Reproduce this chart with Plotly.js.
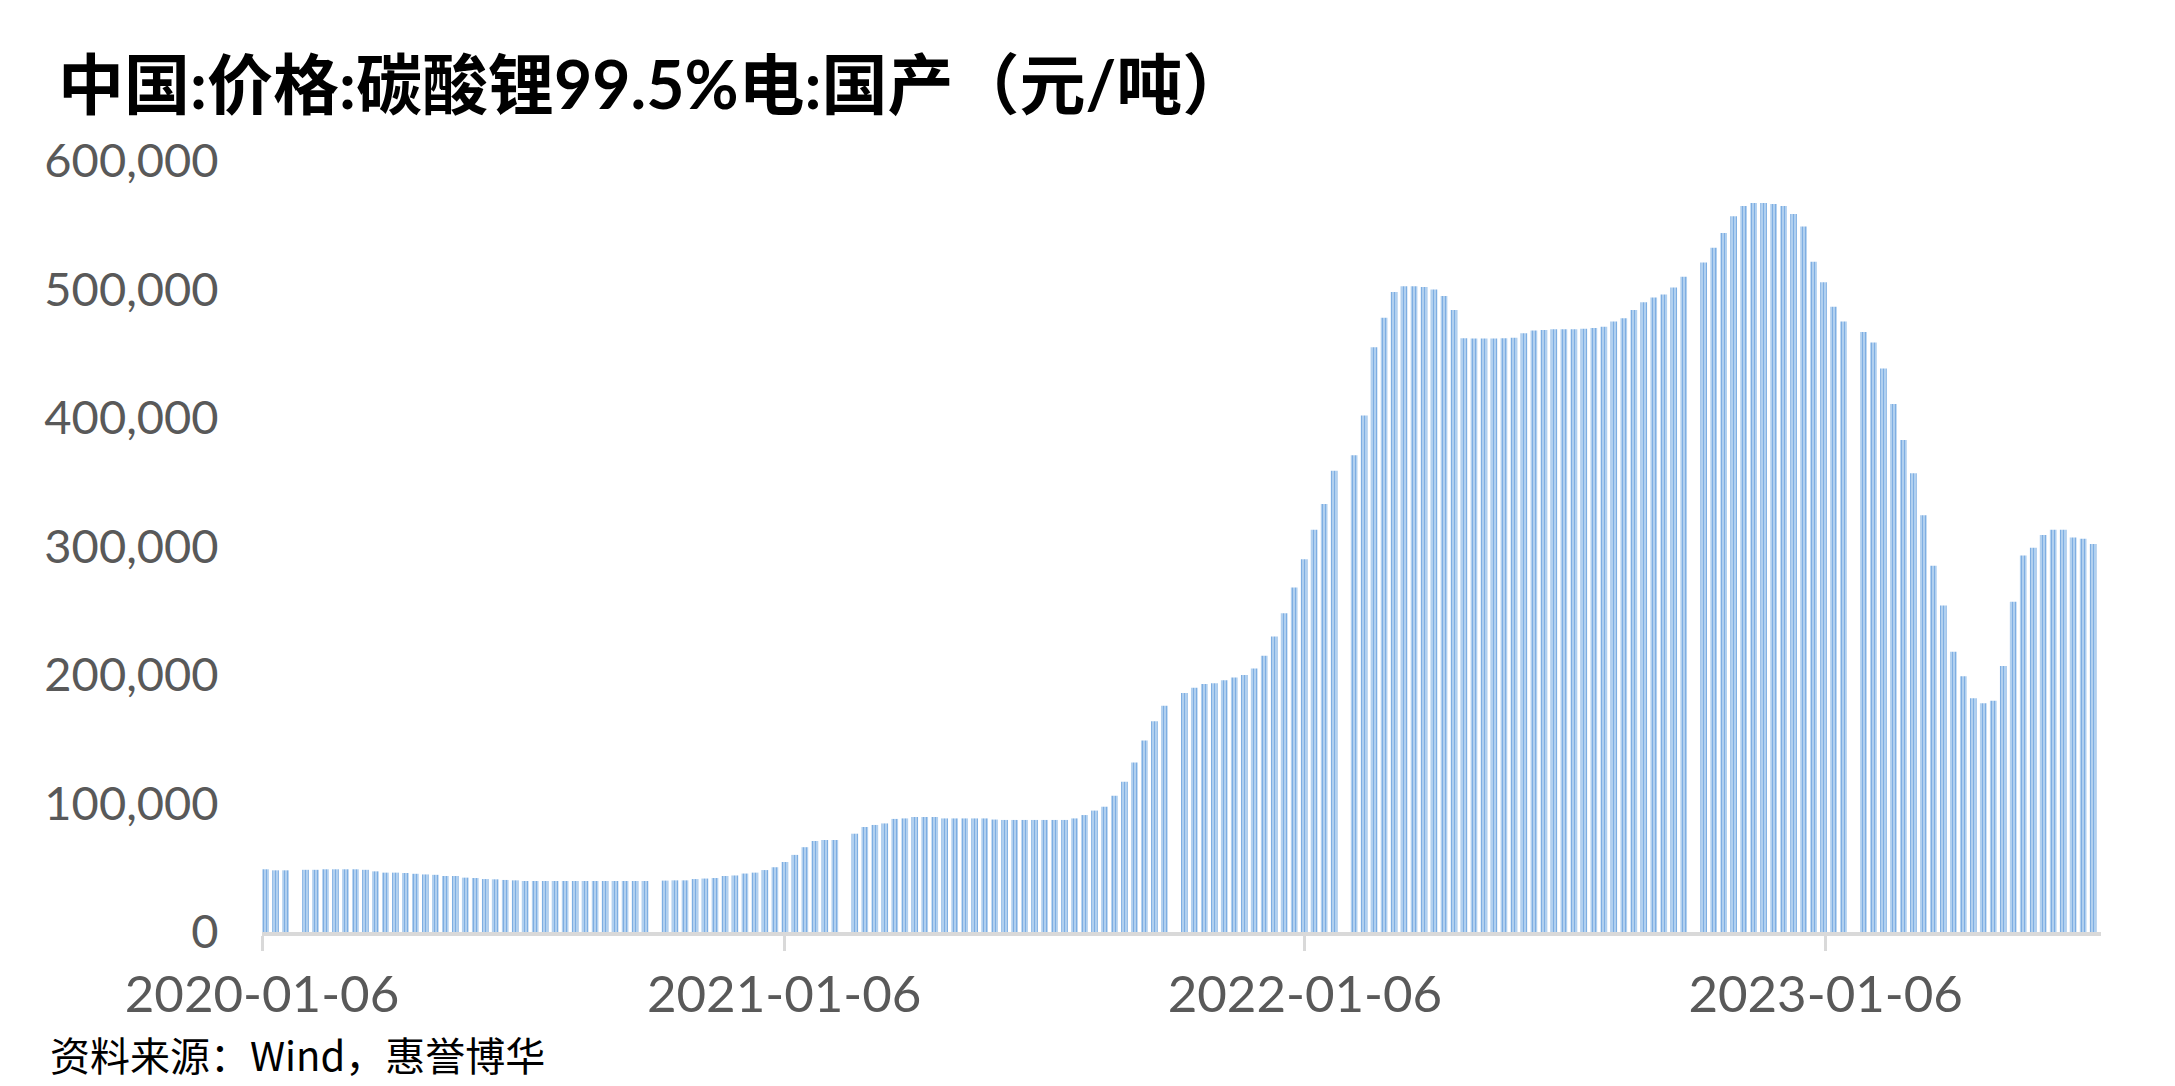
<!DOCTYPE html>
<html>
<head>
<meta charset="utf-8">
<script src="https://cdn.plot.ly/plotly-3.0.1.min.js"></script>
<style>
  html, body { margin: 0; padding: 0; background: #ffffff; }
  #chart { width: 2175px; height: 1086px; }
</style>
</head>
<body>
<div id="chart"></div>
<script>
const weeks2020 = ['2020-01-06','2020-01-13','2020-01-20','2020-01-27','2020-02-03','2020-02-10','2020-02-17','2020-02-24',
  '2020-03-02','2020-03-09','2020-03-16','2020-03-23','2020-03-30','2020-04-06','2020-04-13','2020-04-20','2020-04-27',
  '2020-05-04','2020-05-11','2020-05-18','2020-05-25','2020-06-01','2020-06-08','2020-06-15','2020-06-22','2020-06-29',
  '2020-07-06','2020-07-13','2020-07-20','2020-07-27','2020-08-03','2020-08-10','2020-08-17','2020-08-24','2020-08-31',
  '2020-09-07','2020-09-14','2020-09-21','2020-09-28','2020-10-05','2020-10-12','2020-10-19','2020-10-26',
  '2020-11-02','2020-11-09','2020-11-16','2020-11-23','2020-11-30','2020-12-07','2020-12-14','2020-12-21','2020-12-28'];
const prices2020 = [48800,48000,48000,null,48400,48400,48800,48800,
  48800,48800,48400,47200,46200,46200,45900,45300,44800,
  44500,43600,43600,42300,42000,41200,41000,40500,40200,
  39700,39700,39700,39700,39700,39700,39700,39700,39700,
  39700,39700,39700,39700,null,40000,40200,40200,
  41200,41600,42000,43600,44000,45500,46200,48200,50400];

const weeks2021 = ['2021-01-04','2021-01-11','2021-01-18','2021-01-25','2021-02-01','2021-02-08','2021-02-15','2021-02-22',
  '2021-03-01','2021-03-08','2021-03-15','2021-03-22','2021-03-29','2021-04-05','2021-04-12','2021-04-19','2021-04-26',
  '2021-05-03','2021-05-10','2021-05-17','2021-05-24','2021-05-31','2021-06-07','2021-06-14','2021-06-21','2021-06-28',
  '2021-07-05','2021-07-12','2021-07-19','2021-07-26','2021-08-02','2021-08-09','2021-08-16','2021-08-23','2021-08-30',
  '2021-09-06','2021-09-13','2021-09-20','2021-09-27','2021-10-04','2021-10-11','2021-10-18','2021-10-25',
  '2021-11-01','2021-11-08','2021-11-15','2021-11-22','2021-11-29','2021-12-06','2021-12-13','2021-12-20','2021-12-27'];
const prices2021 = [54500,60000,66000,70800,71600,71600,null,76500,
  81700,83300,84500,88000,88400,89500,89500,89500,88400,
  88400,88400,88400,88400,87500,87200,87200,87200,87200,
  87200,87200,87200,88400,91000,94500,97500,106000,117000,
  132000,149000,164000,176000,null,186000,190000,193000,
  193500,196000,198000,200000,205000,215000,230000,248000,268000];

const weeks2022 = ['2022-01-03','2022-01-10','2022-01-17','2022-01-24','2022-01-31','2022-02-07','2022-02-14','2022-02-21','2022-02-28',
  '2022-03-07','2022-03-14','2022-03-21','2022-03-28','2022-04-04','2022-04-11','2022-04-18','2022-04-25',
  '2022-05-02','2022-05-09','2022-05-16','2022-05-23','2022-05-30','2022-06-06','2022-06-13','2022-06-20','2022-06-27',
  '2022-07-04','2022-07-11','2022-07-18','2022-07-25','2022-08-01','2022-08-08','2022-08-15','2022-08-22','2022-08-29',
  '2022-09-05','2022-09-12','2022-09-19','2022-09-26','2022-10-03','2022-10-10','2022-10-17','2022-10-24','2022-10-31',
  '2022-11-07','2022-11-14','2022-11-21','2022-11-28','2022-12-05','2022-12-12','2022-12-19','2022-12-26'];
const prices2022 = [290000,313000,333000,359000,null,371000,402000,455000,478000,
  498000,502500,502500,502000,500000,495000,484000,462000,
  461800,461800,461800,462000,462500,466000,468000,468500,469000,
  469000,469000,469500,470000,471000,475000,477700,484000,490000,
  493800,496200,501500,510000,null,521000,532500,544000,557000,
  565000,567400,567400,566600,565000,558800,549000,521600];

const weeks2023 = ['2023-01-02','2023-01-09','2023-01-16','2023-01-23','2023-01-30','2023-02-06','2023-02-13','2023-02-20','2023-02-27',
  '2023-03-06','2023-03-13','2023-03-20','2023-03-27','2023-04-03','2023-04-10','2023-04-17','2023-04-24',
  '2023-05-01','2023-05-08','2023-05-15','2023-05-22','2023-05-29','2023-06-05','2023-06-12','2023-06-19','2023-06-26',
  '2023-07-03','2023-07-10'];
const prices2023 = [505700,486500,475000,null,467000,458800,438500,410800,382800,
  357000,324400,285000,254000,218000,199000,182000,178000,
  180000,207000,257000,293000,299000,309000,313000,313000,307000,
  306000,302000];

const xTickVals = ['2020-01-06','2021-01-06','2022-01-06','2023-01-06'];
const xTickText = ['2020-01-06','2021-01-06','2022-01-06','2023-01-06'];
const yTickVals = [0,100000,200000,300000,400000,500000,600000];
const yTickText = ['0','100,000','200,000','300,000','400,000','500,000','600,000'];

const titleText = '中国:价格:碳酸锂99.5%电:国产（元/吨）';
const sourceText = '资料来源：Wind，惠誉博华';

const weeks = weeks2020.concat(weeks2021, weeks2022, weeks2023);
const prices = prices2020.concat(prices2021, prices2022, prices2023);

const DAY = 86400000;

const trace = {
  type: 'bar',
  x: weeks,
  y: prices,
  offset: 0.15 * DAY,
  width: 4.7 * DAY,
  marker: {
    color: '#a7c9ec',
    line: { width: 0 },
    pattern: { shape: '|', fillmode: 'replace', bgcolor: '#bcd7f2', fgcolor: '#7eaee2', size: 3, solidity: 0.45 }
  },
  hoverinfo: 'x+y',
  showlegend: false
};

const layout = {
  width: 2175,
  height: 1086,
  paper_bgcolor: '#ffffff',
  plot_bgcolor: '#ffffff',
  margin: { l: 262, r: 74, t: 161, b: 154, pad: 0 },
  showlegend: false,
  title: {
    text: '<b>' + titleText + '</b>',
    x: 58 / 2175, xanchor: 'left', xref: 'container',
    y: 1 - 86 / 1086, yanchor: 'middle', yref: 'container',
    font: { family: 'Lato, "Noto Sans CJK SC", sans-serif', size: 66, color: '#000000' }
  },
  xaxis: {
    type: 'date',
    range: ['2020-01-06', '2023-07-18'],
    tickmode: 'array',
    tickvals: xTickVals,
    ticktext: xTickText,
    ticks: 'outside',
    ticklen: 15,
    tickwidth: 3,
    tickcolor: '#d9d9d9',
    showline: true,
    linecolor: '#d9d9d9',
    linewidth: 4,
    showgrid: false,
    zeroline: false,
    tickfont: { family: 'Lato, "Noto Sans", sans-serif', size: 51, color: '#595959' },
    fixedrange: true
  },
  yaxis: {
    range: [0, 600000],
    tickmode: 'array',
    tickvals: yTickVals,
    ticktext: yTickText,
    ticks: 'outside',
    ticklen: 33,
    tickcolor: 'rgba(0,0,0,0)',
    showline: false,
    showgrid: false,
    zeroline: false,
    tickfont: { family: 'Lato, "Noto Sans", sans-serif', size: 47, color: '#595959' },
    fixedrange: true
  },
  annotations: [{
    text: sourceText,
    xref: 'paper', yref: 'paper',
    x: (48 - 262) / (2101 - 262), xanchor: 'left',
    y: (932 - 1054) / 771, yanchor: 'middle',
    showarrow: false,
    font: { family: '"Noto Sans CJK SC", sans-serif', size: 40, color: '#000000' }
  }]
};

Plotly.newPlot('chart', [trace], layout, { staticPlot: true, displayModeBar: false });
</script>
</body>
</html>
